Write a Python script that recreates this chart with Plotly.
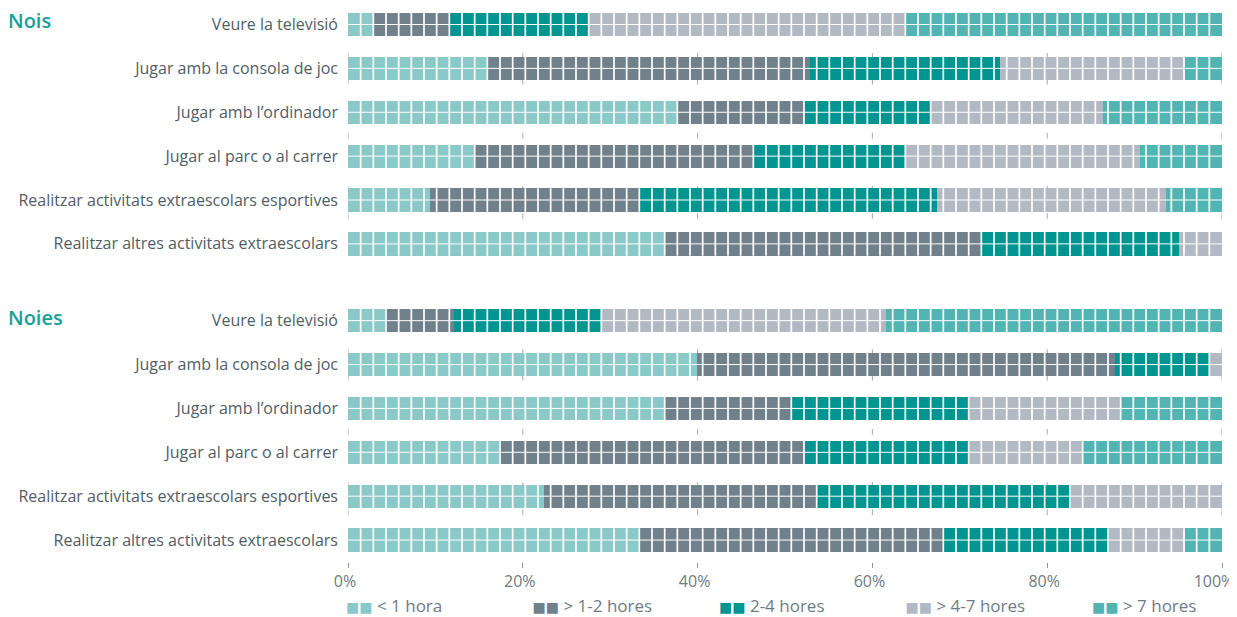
import plotly.graph_objects as go

# activitats (mateix ordre per als dos grups)
activities = [
    "Veure la televisió",
    "Jugar amb la consola de joc",
    "Jugar amb l’ordinador",
    "Jugar al parc o al carrer",
    "Realitzar activitats extraescolars esportives",
    "Realitzar altres activitats extraescolars",
]
groups = ["Nois", "Noies"]
categories = ["< 1 hora", "> 1-2 hores", "2-4 hores", "> 4-7 hores", "> 7 hores"]
tick_vals = [0, 20, 40, 60, 80, 100]
tick_labels = ["0%", "20%", "40%", "60%", "80%", "100%"]

# percentatges (%), un valor per activitat
nois_lt1 = [2.9, 15.9, 37.6, 14.4, 9.4, 36.2]
nois_1_2 = [8.6, 37.0, 14.6, 31.9, 23.9, 36.3]
nois_2_4 = [16.0, 21.7, 14.5, 17.5, 34.1, 22.6]
nois_4_7 = [36.3, 21.2, 19.7, 26.8, 26.2, 4.9]
nois_gt7 = [36.2, 4.2, 13.6, 9.4, 6.4, 0.0]

noies_lt1 = [4.2, 39.9, 36.2, 17.3, 22.4, 33.3]
noies_1_2 = [7.9, 47.9, 14.5, 34.9, 31.3, 34.9]
noies_2_4 = [16.8, 10.8, 20.4, 18.9, 29.0, 18.9]
noies_4_7 = [32.7, 1.4, 17.3, 13.0, 17.3, 8.7]
noies_gt7 = [38.4, 0.0, 11.6, 15.9, 0.0, 4.2]

colors = ["#8bc9c9", "#71818b", "#009591", "#b1bac3", "#52b5b4"]
FONT = "Open Sans"
LABEL_COLOR = "#4f5d66"
AXIS_COLOR = "#6e7c85"
TEAL = "#17a09a"

# la pàgina deixa 8 px de marge al body: la figura és una mica més petita
W, H = 1229, 609

# posicions de les files: el segon grup queda separat
GROUP_GAP = 0.75
n = len(activities)
y_pos = list(range(n)) + [i + n + GROUP_GAP for i in range(n)]

series = [
    nois_lt1 + noies_lt1,
    nois_1_2 + noies_1_2,
    nois_2_4 + noies_2_4,
    nois_4_7 + noies_4_7,
    nois_gt7 + noies_gt7,
]

fig = go.Figure()
for name, vals, col in zip(categories, series, colors):
    fig.add_trace(go.Bar(
        x=vals, y=y_pos, orientation="h", name=name,
        marker=dict(color=col, line=dict(width=0)),
        width=0.53, showlegend=False,
        hovertemplate="%{x:.1f}%<extra>" + name + "</extra>",
    ))

# llegenda amb dos quadrats per element (sobre l'eix x2, només per a l'últim rètol)
for name, col in zip(categories, colors):
    fig.add_trace(go.Scatter(
        x=[None], y=[None], mode="markers", xaxis="x2",
        marker=dict(color="rgba(0,0,0,0)", size=1),
        name=(f'<span style="color:{col};font-family:DejaVu Sans;font-size:14px">■■</span>'
              f' {name}'),
        hoverinfo="skip",
    ))

# petites marques de graella a cada 20% entre algunes files
stub_rows = [(1, -0.35, -0.26), (1, 0.24, 0.37), (2, 0.47, 0.6), (4, -0.32, -0.25), (4, 0.3, 0.43)]
spath = []
for base in (0, n + GROUP_GAP):
    for r, a, b in stub_rows:
        for tv in tick_vals:
            spath.append(f"M{tv},{base + r + a:.3f}V{base + r + b:.3f}")
fig.add_shape(type="path", path="".join(spath), xref="x", yref="y",
              line=dict(color="#a3acb2", width=1), layer="below")

# quadrícula blanca per dividir les barres en cel·les
N_CELLS = 69
half = 0.3
vpath = []
hpath = []
for c in y_pos:
    for k in range(1, N_CELLS):
        xk = k * 100 / N_CELLS
        vpath.append(f"M{xk:.4f},{c - 0.27:.3f}V{c + 0.27:.3f}")
    hpath.append(f"M0,{c:.3f}H100")
fig.add_shape(type="path", path="".join(vpath), xref="x", yref="y",
              line=dict(color="white", width=1.7), layer="above")
fig.add_shape(type="path", path="".join(hpath), xref="x", yref="y",
              line=dict(color="white", width=1.0), layer="above")

# títols dels grups
for g, yy in zip(groups, [0, n + GROUP_GAP]):
    fig.add_annotation(
        text=g, xref="paper", yref="y", x=-342 / 874, y=yy - 0.08,
        xanchor="left", yanchor="middle", showarrow=False,
        font=dict(family=FONT, size=20, color=TEAL, weight=600),
    )

fig.update_layout(
    width=W, height=H,
    margin=dict(l=340, r=15, t=0, b=H - 553.6, autoexpand=False),
    barmode="stack",
    plot_bgcolor="white", paper_bgcolor="white",
    font=dict(family=FONT, size=16, color=LABEL_COLOR),
    showlegend=True,
    legend=dict(
        orientation="h", x=-0.048, y=-0.079, xanchor="left", yanchor="middle",
        entrywidth=141.5, entrywidthmode="pixels", traceorder="normal",
        font=dict(family=FONT, size=17, color=AXIS_COLOR),
        bgcolor="rgba(0,0,0,0)", itemclick=False, itemdoubleclick=False,
    ),
    bargap=0,
)
axis_style = dict(
    range=[0, 100], ticks="outside", ticklen=5, tickcolor="#8a959c", tickwidth=1,
    showgrid=False, zeroline=False, showline=False, automargin=False,
    ticklabeloverflow="allow", ticklabelstandoff=0,
    tickfont=dict(family=FONT, size=16, color=AXIS_COLOR),
)
fig.update_layout(
    # 0%-80% a l'eix principal; 100% a un eix superposat, desplaçat cap a dins
    xaxis=dict(tickvals=tick_vals[:-1], ticktext=tick_labels[:-1],
               ticklabelshift=-3, **axis_style),
    xaxis2=dict(tickvals=tick_vals[-1:], ticktext=tick_labels[-1:],
                overlaying="x", matches="x", side="bottom", anchor="y",
                ticklabelshift=-8, **axis_style),
)
fig.update_yaxes(
    range=[n * 2 + GROUP_GAP - 0.5, -0.376], tickvals=y_pos, ticktext=activities * 2,
    showgrid=False, zeroline=False, showline=False, ticks="", automargin=False,
    ticklabelstandoff=9,
    tickfont=dict(family=FONT, size=16, color=LABEL_COLOR),
)

fig.write_html("out.html")
